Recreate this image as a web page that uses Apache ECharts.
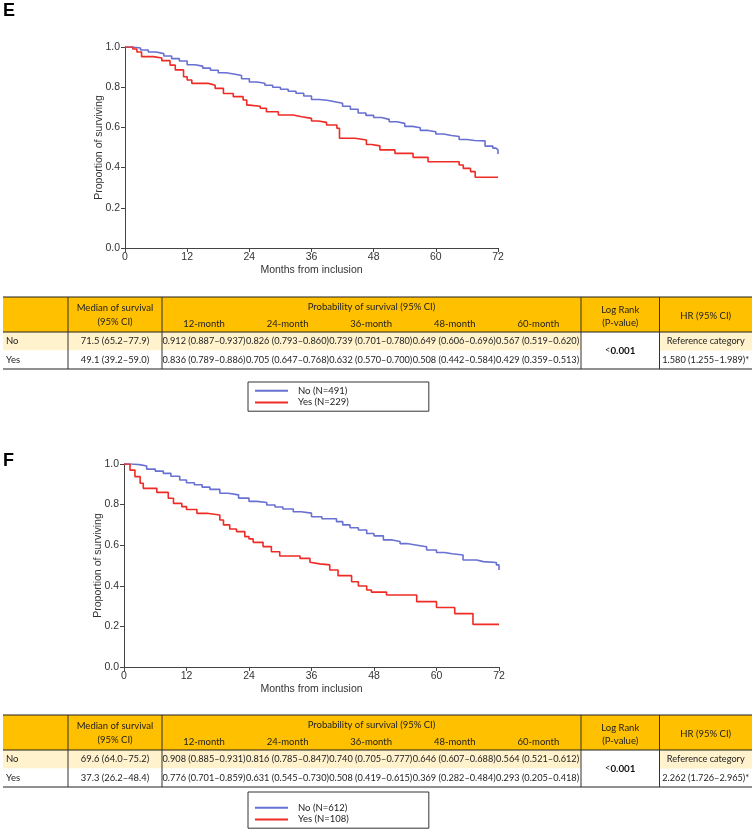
<!DOCTYPE html>
<html>
<head>
<meta charset="utf-8">
<script src="https://cdn.jsdelivr.net/npm/echarts@6/dist/echarts.min.js"></script>
<style>
html,body{margin:0;padding:0;background:#fff;}
#chart{width:753px;height:829px;}
</style>
</head>
<body>
<div id="chart"></div>
<script>
// ---------- DATA ----------
const monthTicks = [0, 12, 24, 36, 48, 60, 72];
const survTicks = [0, 0.2, 0.4, 0.6, 0.8, 1.0];

// Panel E Kaplan-Meier curves: [month, survival]
const kmE_no = [[0,1],[1.5,0.995],[3,0.985],[4.5,0.975],[6,0.967],[7.5,0.955],[9,0.942],[10.5,0.93],[12,0.912],[13.5,0.905],[15,0.895],[16.5,0.884],[18,0.872],[19.5,0.866],[21,0.858],[22.5,0.842],[24,0.826],[25.5,0.82],[27,0.81],[28.5,0.8],[30,0.79],[31.5,0.78],[33,0.77],[34.5,0.756],[36,0.739],[37.5,0.735],[39,0.728],[40.5,0.72],[42,0.705],[43.5,0.69],[45,0.672],[46.5,0.66],[48,0.649],[49.5,0.64],[51,0.628],[52.5,0.62],[54,0.605],[55.5,0.598],[57,0.585],[58.5,0.578],[60,0.567],[61.5,0.56],[63,0.555],[64.5,0.54],[66,0.535],[67.5,0.533],[69.5,0.507],[71,0.497],[71.6,0.488],[72,0.468]];
const kmE_yes = [[0,1],[1.5,0.99],[2.3,0.975],[3.2,0.952],[5.5,0.945],[7.1,0.932],[8.7,0.91],[9.7,0.886],[11.3,0.852],[12,0.836],[12.9,0.819],[16.1,0.81],[17.4,0.794],[19,0.769],[20.9,0.753],[22.8,0.736],[23.5,0.711],[24,0.705],[26.1,0.695],[27.3,0.678],[29.6,0.662],[32.5,0.653],[34.1,0.645],[36,0.632],[37.3,0.625],[38.9,0.612],[40.9,0.596],[41.4,0.546],[44.4,0.537],[46.6,0.515],[47.6,0.508],[49.2,0.488],[52.1,0.471],[55.6,0.451],[58.5,0.429],[64.5,0.413],[65.3,0.396],[66.7,0.38],[67.6,0.352],[72,0.352]];

// Panel F Kaplan-Meier curves
const kmF_no = [[0,1],[1.5,0.997],[3,0.99],[4.35,0.975],[6,0.965],[7.55,0.954],[9,0.94],[10.7,0.921],[12,0.908],[13.5,0.898],[15,0.886],[16.5,0.875],[18.4,0.856],[20,0.848],[22,0.832],[24,0.816],[25.5,0.81],[27.4,0.798],[29,0.788],[30.5,0.778],[32.5,0.765],[34,0.758],[36,0.74],[38,0.73],[40.8,0.716],[42,0.7],[43.4,0.686],[45,0.675],[46.6,0.658],[48,0.646],[49.8,0.626],[51.5,0.618],[53,0.608],[54.3,0.601],[56,0.592],[58.1,0.576],[60,0.564],[61.5,0.558],[63,0.552],[65.1,0.527],[67.7,0.519],[69,0.515],[71.5,0.503],[72,0.478]];
const kmF_yes = [[0,1],[1.15,0.97],[2.1,0.938],[3.1,0.905],[3.7,0.88],[6.3,0.86],[8.5,0.831],[9.5,0.806],[11.1,0.79],[12,0.776],[14,0.757],[15.9,0.749],[18.4,0.724],[19.1,0.7],[20.3,0.68],[21.6,0.667],[23.2,0.642],[24,0.631],[24.8,0.614],[26.7,0.593],[28.3,0.568],[29.9,0.547],[33.8,0.535],[35.7,0.516],[36,0.508],[37.6,0.503],[39.5,0.478],[41.1,0.45],[43.7,0.42],[45,0.399],[46.6,0.379],[47.5,0.369],[50.4,0.355],[56.2,0.322],[60,0.293],[63.5,0.263],[67,0.21],[72,0.21]];

const seriesNamesE = ['No (N=491)', 'Yes (N=229)'];
const seriesNamesF = ['No (N=612)', 'Yes (N=108)'];
const panelLabels = ['E', 'F'];

// Tables
const groupLabels = ['No', 'Yes'];
const probHeaders = ['12-month', '24-month', '36-month', '48-month', '60-month'];
const medianE = ['71.5 (65.2–77.9)', '49.1 (39.2–59.0)'];
const probE_no = ['0.912 (0.887–0.937)', '0.826 (0.793–0.860)', '0.739 (0.701–0.780)', '0.649 (0.606–0.696)', '0.567 (0.519–0.620)'];
const probE_yes = ['0.836 (0.789–0.886)', '0.705 (0.647–0.768)', '0.632 (0.570–0.700)', '0.508 (0.442–0.584)', '0.429 (0.359–0.513)'];
const logRankE = '0.001';
const hrE = ['Reference category', '1.580 (1.255–1.989)*'];
const medianF = ['69.6 (64.0–75.2)', '37.3 (26.2–48.4)'];
const probF_no = ['0.908 (0.885–0.931)', '0.816 (0.785–0.847)', '0.740 (0.705–0.777)', '0.646 (0.607–0.688)', '0.564 (0.521–0.612)'];
const probF_yes = ['0.776 (0.701–0.859)', '0.631 (0.545–0.730)', '0.508 (0.419–0.615)', '0.369 (0.282–0.484)', '0.293 (0.205–0.418)'];
const logRankF = '0.001';
const hrF = ['Reference category', '2.262 (1.726–2.965)*'];

// ---------- STYLE / LAYOUT ----------
const BLUE = '#6870d2';
const RED = '#ee2b24';
const AX = 'Liberation Sans, Arial, sans-serif';
const TF = 'Lato, sans-serif';
const HEAD = '#FFC000';
const ROWNO = '#FFF2CC';

function axisPair(gi, nameGapY) {
  const x = {
    type: 'value', gridIndex: gi, min: 0, max: 72, interval: 12,
    axisLine: {show: true, onZero: false, lineStyle: {color: '#444', width: 1}},
    axisTick: {show: true, length: 4, lineStyle: {color: '#444'}},
    axisLabel: {fontFamily: AX, fontSize: 10.5, color: '#333', margin: 4,
      formatter: v => monthTicks.includes(v) ? String(v) : ''},
    splitLine: {show: false},
    name: 'Months from inclusion', nameLocation: 'middle', nameGap: 17,
    nameMoveOverlap: false,
    nameTextStyle: {fontFamily: AX, fontSize: 10.5, color: '#333'}
  };
  const y = {
    type: 'value', gridIndex: gi, min: 0, max: 1, interval: 0.2,
    axisLine: {show: true, onZero: false, lineStyle: {color: '#444', width: 1}},
    axisTick: {show: true, length: 4, lineStyle: {color: '#444'}},
    axisLabel: {fontFamily: AX, fontSize: 10.5, color: '#333', margin: 5,
      formatter: v => v.toFixed(1)},
    splitLine: {show: false},
    name: 'Proportion of surviving', nameLocation: 'middle', nameGap: nameGapY,
    nameRotate: 90, nameMoveOverlap: false,
    nameTextStyle: {fontFamily: AX, fontSize: 10.5, color: '#333'}
  };
  return [x, y];
}

const [xE, yE] = axisPair(0, 20);
const [xF, yF] = axisPair(1, 20);

function line(name, data, color, idx) {
  return {
    name, type: 'line', step: 'end', data, xAxisIndex: idx, yAxisIndex: idx,
    showSymbol: false, symbol: 'none', animation: false,
    lineStyle: {color, width: 1.6}, itemStyle: {color}
  };
}

function legendCfg(names, top, padTop, padBottom) {
  return {
    data: names, orient: 'vertical', left: 248, top,
    icon: 'rect', itemWidth: 33, itemHeight: 2, itemGap: 0,
    textStyle: {fontFamily: TF, fontSize: 9.5, color: '#222', lineHeight: 11.6, padding: [0, 0, 0, 5]},
    borderColor: '#333', borderWidth: 1, backgroundColor: '#fff',
    padding: [padTop, 80, padBottom, 7], selectedMode: false
  };
}

function txt(x, y, text, opts) {
  opts = opts || {};
  return {
    type: 'text', x, y, silent: true,
    style: Object.assign({
      text, fill: '#222', font: (opts.bold ? 'bold ' : '') + (opts.size || 9.2) + 'px ' + TF,
      align: opts.align || 'center', verticalAlign: 'middle',
      textAlign: opts.align || 'center', textVerticalAlign: 'middle'
    }, opts.rich ? {rich: opts.rich} : {})
  };
}
function rect(x, y, w, h, fill) {
  return {type: 'rect', silent: true, shape: {x, y, width: w, height: h}, style: {fill}};
}
function hline(x1, x2, y, color, w) {
  return {type: 'line', silent: true, shape: {x1, y1: y, x2, y2: y}, style: {stroke: color || '#222', lineWidth: w || 1}};
}
function vline(x, y1, y2, color, w) {
  return {type: 'line', silent: true, shape: {x1: x, y1, x2: x, y2}, style: {stroke: color || '#222', lineWidth: w || 1}};
}

function buildTable(T, median, probNo, probYes, logRank, hr) {
  const L = 3, R = 752;
  const c1 = 68, c2 = 162, c3 = 581, c4 = 659.5;
  const H = 35, rh = 18.5;
  const yNo = T + H, yYes = T + H + rh, B = T + H + 2 * rh;
  const els = [];
  els.push(rect(L, T, R - L, H, HEAD));
  els.push(rect(L, yNo, R - L, rh, ROWNO));
  els.push(rect(L, yYes, R - L, rh, '#fff'));
  els.push(rect(c3, yNo, c4 - c3, 2 * rh, '#fff'));
  els.push(rect(c4, yNo, R - c4, rh, ROWNO));
  // header texts
  els.push(txt((c1 + c2) / 2, T + 11, 'Median of survival', {size: 9.5}));
  els.push(txt((c1 + c2) / 2, T + 25, '(95% CI)', {size: 9.5}));
  els.push(txt((c2 + c3) / 2, T + 9.5, 'Probability of survival (95% CI)', {size: 9.5}));
  probHeaders.forEach((h, i) => els.push(txt(204 + 83.6 * i, T + 27, h, {size: 9.5})));
  els.push(txt((c3 + c4) / 2, T + 13, 'Log Rank', {size: 9.5}));
  els.push(txt((c3 + c4) / 2, T + 25.5, '(P-value)', {size: 9.5}));
  els.push(txt((c4 + R) / 2, T + 19, 'HR (95% CI)', {size: 9.5}));
  // rows
  const rows = [[yNo, probNo, 0], [yYes, probYes, 1]];
  rows.forEach(([ry, probs, k]) => {
    const cy = ry + rh / 2;
    els.push(txt(L + 3, cy, groupLabels[k], {align: 'left', size: 9.5}));
    els.push(txt((c1 + c2) / 2, cy, median[k], {size: 9.4}));
    probs.forEach((p, i) => els.push(txt(204 + 83.4 * i, cy, p)));
    els.push(txt((c4 + R) / 2, cy, hr[k]));
  });
  els.push(txt((c3 + c4) / 2, yYes, '<{b|' + logRank + '}', {rich: {b: {fontWeight: 'bold', fontFamily: TF, fontSize: 9.8, fill: '#111'}}}));
  // borders
  els.push(hline(L, R, T, '#222', 1.2));
  els.push(hline(L, R, yNo, '#222', 1.2));
  els.push(hline(L, R, B, '#222', 1.2));
  [c1, c2, c3, c4].forEach(x => els.push(vline(x, T, B, '#333', 1)));
  return els;
}

const graphics = [
  txt(3, 11, panelLabels[0], {align: 'left', bold: true, size: 18}),
  txt(3, 461, panelLabels[1], {align: 'left', bold: true, size: 18})
].map(e => { e.style.font = 'bold 18px ' + AX; e.style.fill = '#000'; return e; })
 .concat(buildTable(297, medianE, probE_no, probE_yes, logRankE, hrE))
 .concat(buildTable(715, medianF, probF_no, probF_yes, logRankF, hrF));

const chart = echarts.init(document.getElementById('chart'), null, {renderer: 'canvas'});
chart.setOption({
  animation: false,
  backgroundColor: '#fff',
  grid: [
    {left: 125, top: 47, width: 373, height: 201},
    {left: 124, top: 464, width: 375, height: 203}
  ],
  xAxis: [xE, xF],
  yAxis: [yE, yF],
  legend: [
    legendCfg(seriesNamesE, 382, 3, 3),
    legendCfg(seriesNamesF, 792, 10, 3)
  ],
  series: [
    line(seriesNamesE[0], kmE_no, BLUE, 0),
    line(seriesNamesE[1], kmE_yes, RED, 0),
    line(seriesNamesF[0], kmF_no, BLUE, 1),
    line(seriesNamesF[1], kmF_yes, RED, 1)
  ],
  graphic: graphics
});
</script>
</body>
</html>
